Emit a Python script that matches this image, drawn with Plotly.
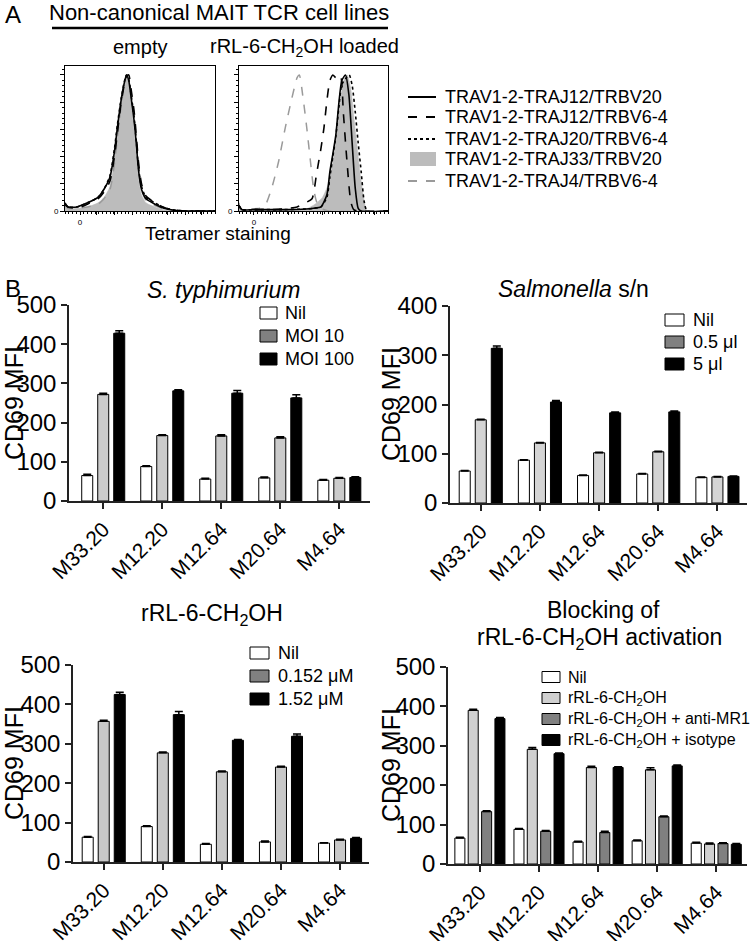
import plotly.graph_objects as go

W, H = 754, 941
FONT = "Liberation Sans, Arial, Helvetica, sans-serif"

# ---------------- Panel A data (x: % of box width, y: % of modal count) ----------------
hist_labels = ["TRAV1-2-TRAJ12/TRBV20", "TRAV1-2-TRAJ12/TRBV6-4", "TRAV1-2-TRAJ20/TRBV6-4",
               "TRAV1-2-TRAJ33/TRBV20", "TRAV1-2-TRAJ4/TRBV6-4"]

empty_x = [0, 2, 8, 15, 22, 26, 30, 33, 35, 37.5, 39.5, 41, 42.5, 44, 46, 47.5, 49, 51, 54, 60, 66, 73, 80, 100]
empty_j12v20 = [6, 3, 3, 6, 10, 16, 25, 44, 62, 82, 94, 100, 96, 84, 67, 50, 30, 16, 9, 5, 2, 0.5, 0, 0]
empty_j12v64 = [5, 3, 2, 5, 9, 14, 22, 40, 58, 80, 93, 99, 100, 90, 74, 56, 36, 20, 11, 6, 2.5, 0.7, 0, 0]
empty_j20v64 = [5, 3, 3, 6, 10, 16, 26, 46, 64, 83, 95, 100, 97, 86, 70, 52, 32, 18, 10, 6, 2.5, 0.7, 0, 0]
empty_j33v20 = [4, 2, 2, 3, 6, 10, 18, 38, 58, 80, 94, 100, 95, 80, 60, 42, 24, 12, 6, 3, 1, 0.3, 0, 0]
empty_j4v64 = [4, 2, 2, 3, 5, 9, 16, 35, 55, 78, 93, 100, 97, 85, 68, 50, 30, 16, 8, 4, 1.5, 0.3, 0, 0]

loaded_j4v64_x = [0, 1, 3, 8, 14, 17.5, 22, 26.5, 31, 35.5, 39, 40.5, 43, 45.5, 48, 50, 52, 55, 60, 100]
loaded_j4v64 = [6, 1, 1, 1.5, 2, 4, 17, 36, 61, 83, 98, 100, 83, 61, 36, 17, 7, 2, 0, 0]
loaded_j12v64_x = [0, 2, 10, 20, 30, 39, 44.5, 49, 52, 55, 57, 59, 61, 63, 65, 67, 68.5, 70, 72.5, 75, 77, 80, 100]
loaded_j12v64 = [4, 1, 1, 1, 1.5, 3, 6, 9, 27, 46, 61, 81, 96, 100, 98, 100, 98, 73, 36, 7, 1, 0, 0]
loaded_j12v20_x = [0, 2, 10, 30, 45, 50, 55, 59, 61, 63, 65, 67, 69, 71.5, 73.7, 76, 78, 80, 82, 100]
loaded_j12v20 = [4, 1, 1, 1, 1.5, 2, 3, 12, 29, 42, 56, 79, 96, 100, 86, 49, 17, 2, 0, 0]
loaded_j20v64_x = [0, 2, 10, 30, 45, 50, 55, 59, 61, 63, 65, 67, 69, 72, 74, 76, 78, 80, 82, 84, 86, 100]
loaded_j20v64 = [4, 1, 1, 1, 1.5, 2, 3, 10, 25, 40, 55, 76, 93, 98, 100, 92, 73, 50, 29, 7, 0, 0]
loaded_j33v20_x = [0, 2, 10, 30, 45, 51, 56, 60, 63.6, 67, 70, 72.6, 75, 77, 79, 81.6, 84, 86, 100]
loaded_j33v20 = [3, 1, 1, 1, 1.5, 5, 10, 20, 40, 70, 95, 100, 90, 70, 50, 25, 8, 0, 0]

# ---------------- Panel B data ----------------
cell_lines = ["M33.20", "M12.20", "M12.64", "M20.64", "M4.64"]

st_names = ["Nil", "MOI 10", "MOI 100"]
st_nil = [65, 88, 56, 59, 53]
st_moi10 = [272, 167, 166, 161, 58]
st_moi100 = [428, 281, 275, 263, 60]
st_err = [[3, 2, 2, 2, 2], [3, 2, 3, 3, 2], [6, 3, 7, 8, 2]]

sn_names = ["Nil", "0.5 μl", "5 μl"]
sn_nil = [65, 87, 56, 59, 52]
sn_05 = [169, 122, 102, 104, 53]
sn_5 = [314, 205, 183, 185, 54]
sn_err = [[1, 1, 1, 1, 1], [1, 1, 1, 1, 1], [5, 3, 2, 2, 1]]

rl_names = ["Nil", "0.152 μM", "1.52 μM"]
rl_nil = [63, 90, 45, 51, 48]
rl_0152 = [357, 277, 229, 241, 56]
rl_152 = [425, 374, 309, 319, 60]
rl_err = [[2, 2, 2, 2, 1], [3, 2, 2, 2, 2], [6, 8, 2, 6, 2]]

bl_names = ["Nil", "rRL-6-CH<sub>2</sub>OH", "rRL-6-CH<sub>2</sub>OH + anti-MR1", "rRL-6-CH<sub>2</sub>OH + isotype"]
bl_nil = [66, 88, 56, 59, 53]
bl_rrl = [390, 291, 245, 239, 51]
bl_anti = [133, 83, 80, 120, 52]
bl_iso = [369, 280, 245, 249, 50]
bl_err = [[2, 2, 2, 2, 2], [3, 5, 3, 5, 2], [2, 2, 3, 2, 2], [3, 2, 2, 2, 2]]


def px_x(x):
    return x / W


def px_y(y):
    return 1 - y / H


def dom_x(a, b):
    return [a / W, b / W]


def dom_y(top, bottom):
    return [1 - bottom / H, 1 - top / H]


fig = go.Figure()

# ---------------- Histograms ----------------
hist_style = [
    dict(color="black", width=1.6, dash="solid"),
    dict(color="black", width=1.6, dash="dash"),
    dict(color="black", width=1.6, dash="dot"),
    None,
    dict(color="#9a9a9a", width=1.5, dash="dash"),
]
GRAY_FILL = "#bcbcbc"

empty_curves = [(empty_x, empty_j12v20), (empty_x, empty_j12v64), (empty_x, empty_j20v64),
                (empty_x, empty_j33v20), (empty_x, empty_j4v64)]
loaded_curves = [(loaded_j12v20_x, loaded_j12v20), (loaded_j12v64_x, loaded_j12v64),
                 (loaded_j20v64_x, loaded_j20v64), (loaded_j33v20_x, loaded_j33v20),
                 (loaded_j4v64_x, loaded_j4v64)]

for ax_i, curves in ((1, empty_curves), (2, loaded_curves)):
    xa = "x" if ax_i == 1 else "x2"
    ya = "y" if ax_i == 1 else "y2"
    fx, fy = curves[3]
    fig.add_trace(go.Scatter(x=fx, y=fy, xaxis=xa, yaxis=ya, mode="lines", fill="tozeroy",
                             fillcolor=GRAY_FILL, line=dict(color=GRAY_FILL, width=0.5, shape="spline", smoothing=0.6),
                             showlegend=False, hoverinfo="skip"))
    for k in (4, 0, 1, 2):
        cx, cy = curves[k]
        st = hist_style[k]
        fig.add_trace(go.Scatter(x=cx, y=cy, xaxis=xa, yaxis=ya, mode="lines",
                                 line=dict(color=st["color"], width=st["width"], dash=st["dash"],
                                           shape="spline", smoothing=0.6),
                                 showlegend=False, hoverinfo="skip"))

hist_ax_common_x = dict(range=[0, 100], showline=True, mirror=True, linecolor="black", linewidth=1,
                        ticks="outside", ticklen=3, tickwidth=1, tickcolor="black",
                        tickvals=[10, 21, 33, 45, 56, 68, 80, 91], ticktext=["0", "", "", "", "", "", "", ""],
                        tickfont=dict(size=8, family=FONT, color="black"),
                        minor=dict(ticks="outside", ticklen=2, dtick=2.5, tickcolor="black"),
                        showgrid=False, zeroline=False, fixedrange=True, automargin=False)
hist_ax_common_y = dict(range=[0, 106.6], showline=True, mirror=True, linecolor="black", linewidth=1,
                        ticks="outside", ticklen=4, tickwidth=1, tickcolor="black",
                        tickvals=[0, 20, 40, 60, 80, 100], ticktext=["0", "", "", "", "", ""],
                        tickfont=dict(size=8, family=FONT, color="black"),
                        minor=dict(ticks="outside", ticklen=2, dtick=4, tickcolor="black"),
                        showgrid=False, zeroline=False, fixedrange=True, automargin=False)

# ---------------- Bars ----------------
UNIT = 59.0  # px per category (for width conversions only)


def add_bar_panel(series, errs, colors, axis_n, centers_px, width_px):
    xa = "x%d" % axis_n
    ya = "y%d" % axis_n
    w = width_px / UNIT
    for vals, err, col, c in zip(series, errs, colors, centers_px):
        off = c / UNIT - w / 2
        fig.add_trace(go.Bar(x=list(range(len(cell_lines))), y=vals, xaxis=xa, yaxis=ya,
                             width=w, offset=off,
                             marker=dict(color=col, line=dict(color="black", width=1)),
                             error_y=dict(type="data", array=err, arrayminus=[0] * len(err),
                                          symmetric=False, color="black", thickness=1.5, width=4),
                             showlegend=False, hoverinfo="skip"))


add_bar_panel([st_nil, st_moi10, st_moi100], st_err, ["white", "#cbcbcb", "black"], 3, [-16, 0, 16], 11)
add_bar_panel([sn_nil, sn_05, sn_5], sn_err, ["white", "#d4d4d4", "black"], 4, [-16, 0, 16], 11)
add_bar_panel([rl_nil, rl_0152, rl_152], rl_err, ["white", "#c8c8c8", "black"], 5, [-16, 0, 16], 11)
add_bar_panel([bl_nil, bl_rrl, bl_anti, bl_iso], bl_err, ["white", "#d0d0d0", "#808080", "black"], 6,
              [-20, -6.7, 6.7, 20], 10)


def bar_x(domain, rng):
    return dict(domain=domain, range=rng, tickmode="array", tickvals=list(range(len(cell_lines))),
                ticktext=cell_lines, tickangle=-45, ticks="outside", ticklen=6, tickwidth=1.5,
                tickcolor="#222", showline=True, linecolor="#222", linewidth=1.5,
                tickfont=dict(size=21, family=FONT, color="black"), showgrid=False, zeroline=False,
                fixedrange=True, automargin=False)


def bar_y(domain, rng):
    return dict(domain=domain, range=rng, dtick=100, ticks="outside", ticklen=6, tickwidth=1.5,
                tickcolor="#222", showline=True, linecolor="#222", linewidth=1.5,
                tickfont=dict(size=24, family=FONT, color="black"), showgrid=False, zeroline=False,
                fixedrange=True, automargin=False)


layout = dict(
    width=W, height=H, margin=dict(l=0, r=0, t=0, b=0, pad=0), autosize=False,
    paper_bgcolor="white", plot_bgcolor="white",
    barmode="overlay", showlegend=False, font=dict(family=FONT, color="black"),
    xaxis=dict(domain=dom_x(65, 215), anchor="y", **hist_ax_common_x),
    yaxis=dict(domain=dom_y(66, 211), anchor="x", **hist_ax_common_y),
    xaxis2=dict(domain=dom_x(239, 388), anchor="y2", **hist_ax_common_x),
    yaxis2=dict(domain=dom_y(66, 211), anchor="x2", **hist_ax_common_y),
    xaxis3=dict(anchor="y3", **bar_x(dom_x(69, 370), [-0.58, 4.52])),
    yaxis3=dict(anchor="x3", **bar_y(dom_y(305, 501), [0, 500])),
    xaxis4=dict(anchor="y4", **bar_x(dom_x(450, 747), [-0.52, 4.50])),
    yaxis4=dict(anchor="x4", **bar_y(dom_y(306, 503), [0, 400])),
    xaxis5=dict(anchor="y5", **bar_x(dom_x(73, 369), [-0.52, 4.49])),
    yaxis5=dict(anchor="x5", **bar_y(dom_y(665, 862), [0, 500])),
    xaxis6=dict(anchor="y6", **bar_x(dom_x(448, 747), [-0.54, 4.52])),
    yaxis6=dict(anchor="x6", **bar_y(dom_y(667, 864), [0, 500])),
)
fig.update_layout(**layout)

annotations = []
shapes = []


def text(x, y, s, size, xanchor="center", angle=0):
    annotations.append(dict(x=px_x(x), y=px_y(y), xref="paper", yref="paper", text=s, showarrow=False,
                            xanchor=xanchor, yanchor="middle", textangle=angle,
                            font=dict(size=size, family=FONT, color="black")))


# Panel A texts
text(3, 15, "A", 24, xanchor="left")
text(219, 12, "Non-canonical MAIT TCR cell lines", 22)
shapes.append(dict(type="line", xref="paper", yref="paper", x0=px_x(52), x1=px_x(388), y0=px_y(28), y1=px_y(28),
                   line=dict(color="black", width=2.5)))
text(140, 47, "empty", 20)
text(304, 47, "rRL-6-CH<sub>2</sub>OH loaded", 20)
text(218, 233, "Tetramer staining", 19)

# Panel A legend
legA_rows = [97, 117, 139, 159, 181]
for k, (lab, yy) in enumerate(zip(hist_labels, legA_rows)):
    if hist_style[k] is None:
        shapes.append(dict(type="rect", xref="paper", yref="paper", x0=px_x(410), x1=px_x(436),
                           y0=px_y(yy - 7), y1=px_y(yy + 7), fillcolor=GRAY_FILL, line=dict(width=0)))
    else:
        st = hist_style[k]
        shapes.append(dict(type="line", xref="paper", yref="paper", x0=px_x(408), x1=px_x(436),
                           y0=px_y(yy), y1=px_y(yy), line=dict(color=st["color"], width=2, dash=st["dash"])))
    text(443, yy, lab, 18, xanchor="left")

# Panel B texts
text(3, 288, "B", 24, xanchor="left")
text(223, 290, "<i>S. typhimurium</i>", 23)
text(573, 289, "<i>Salmonella</i> s/n", 23)
text(212, 614, "rRL-6-CH<sub>2</sub>OH", 23)
text(603, 610, "Blocking of", 23)
text(599, 638, "rRL-6-CH<sub>2</sub>OH activation", 23)

for xx, yy in ((14, 403), (391, 404), (14, 763), (391, 765)):
    text(xx, yy, "CD69 MFI", 25, angle=-90)


def legend_block(names, colors, x0, x1, rows, tx, size, sh=12):
    for n, c, yy in zip(names, colors, rows):
        shapes.append(dict(type="rect", xref="paper", yref="paper", x0=px_x(x0), x1=px_x(x1),
                           y0=px_y(yy - sh / 2), y1=px_y(yy + sh / 2), fillcolor=c,
                           line=dict(color="black", width=1)))
        text(tx, yy, n, size, xanchor="left")


legend_block(st_names, ["white", "#808080", "black"], 260, 277, [313, 336, 359], 283, 18)
legend_block(sn_names, ["white", "#808080", "black"], 665, 684, [320, 342, 364], 691, 18)
legend_block(rl_names, ["white", "#808080", "black"], 250, 269, [653, 676, 699], 276, 18)
legend_block(bl_names, ["white", "#d0d0d0", "#808080", "black"], 542, 560, [677, 698, 719, 740], 566, 16, sh=11)

fig.update_layout(annotations=annotations, shapes=shapes)
fig.write_html("out.html", config={"displayModeBar": False},
               post_script="document.body.style.margin='0';document.body.style.padding='0';")
